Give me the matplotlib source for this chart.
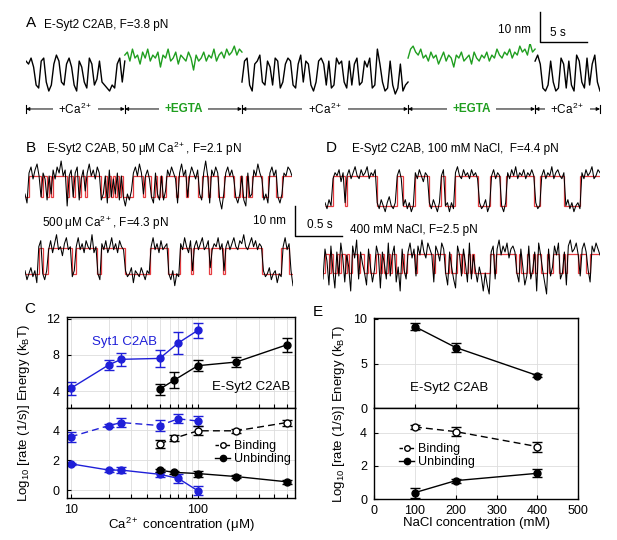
import numpy as np
import matplotlib
matplotlib.use('Agg')
import matplotlib.pyplot as plt
from matplotlib.lines import Line2D
from matplotlib.ticker import FixedLocator, NullFormatter

plt.rcParams['font.family'] = ['Liberation Sans', 'DejaVu Sans']
plt.rcParams['mathtext.fontset'] = 'custom'
plt.rcParams['mathtext.rm'] = 'Liberation Sans'
plt.rcParams['mathtext.it'] = 'Liberation Sans:italic'
plt.rcParams['mathtext.bf'] = 'Liberation Sans:bold'

W, H = 617, 540
BLUE = '#1f1fd8'
GREEN = '#1f9e1f'
RED = '#e3282c'

# ---- panel A: extension trace (nm), segments alternating Ca / EGTA ----
a_seg_dur = [10.5, 12.45, 17.65, 13.5, 6.9]   # s
a_cond = [r'+Ca$^{2+}$', '+EGTA', r'+Ca$^{2+}$', '+EGTA', r'+Ca$^{2+}$']
a_cond_color = ['k', GREEN, 'k', GREEN, 'k']
a_ca1 = [8, 7, 9, 6, 0, -1, 8, 9, 1, -2, 0, 7, 10, 8, 1, 0, 7, 9, 6, 0,
         -2, 8, 6, 1, -1, 9, 7, 0, 2, 8, 1, 0, -1, -2, 0, -1, 7, 9, 1, 8]
a_egta1 = [10, 11, 8, 12, 9, 10, 7, 11, 9, 12, 8, 10, 9, 11, 6, 10, 9, 12, 8, 9,
           11, 7, 10, 9, 8, 11, 9, 5, 10, 8, 9, 11, 8, 10, 9, 12, 8, 10, 11, 9,
           12, 10, 11, 13, 10, 12, 11]
a_ca2 = [1, 8, 9, 0, -2, 7, 8, 10, 1, 0, 8, 6, 0, 9, 8, -1, 1, 7, 9, 8,
         0, -1, 7, 10, 1, 8, 7, 0, -2, 1, 8, 9, 7, 0, 8, -1, 0, 9, 7, 8,
         1, -1, 8, 0, 7, 9, 0, 1, 8, 6, 9, -1, 0, 12, 7, 1, -2, -1, 8, 0,
         -3, -1, 7, -2, 0, 1]
a_egta2 = [9, 12, 13, 11, 10, 12, 9, 10, 8, 11, 9, 10, 7, 9, 11, 8, 10, 9, 6, 10,
           9, 11, 8, 9, 10, 7, 11, 9, 8, 10, 9, 11, 8, 10, 9, 12, 10, 9, 11, 10,
           12, 9, 11, 10, 13, 11, 12, 10, 14, 11, 12]
a_ca3 = [8, 10, 7, -1, -2, 0, 8, 1, -2, -1, 9, 7, -1, 8, 0, -2, 10, 8, 1, -1,
         9, 0, 7, 10, 1, -2]
a_segments = [a_ca1, a_egta1, a_ca2, a_egta2, a_ca3]

# ---- panels B / D: traces (nm) and two-state idealisation (run lengths, low first) ----
b1_dur, b1_hi = 2.84, 7.0
b1_runs = [2, 6, 1, 2, 1, 1, 1, 7, 1, 2, 1, 2, 1, 2, 1, 7, 2, 1, 1, 1, 1, 1, 1, 1, 1, 1, 5, 5,
           1, 3, 2, 1, 2, 1, 2, 5, 1, 4, 1, 5, 2, 3, 1, 4, 3, 5, 3, 1, 2, 1, 2, 5, 3, 4, 3, 5]
b1_trace = [1, -2, 8, 10, 6, 9, 11, 7, 0, 8, 6, -1, 7, 1, 9, 6, 10, 8, 12, 7, 9, -3, 7, 9, 0,
            8, 10, -1, 6, 9, 2, 8, 11, 7, 9, 6, 10, 8, -1, 1, 7, -2, 9, 0, 6, 1, 8, -1, 7,
            0, -3, 1, -1, 2, 8, 10, 7, 11, 8, 1, 7, 9, 6, 0, -2, 8, 1, -1, 7, -1, 2,
            9, 7, 10, 8, 6, -2, 8, 11, 7, 9, 0, 7, 10, 8, 6, 9, 1, -1, 8, 12, 7, -2,
            9, 7, 10, 8, -1, -4, 1, 8, 10, 7, 9, 6, 0, -2, 1, 7, -1, -3, 8, 0, 1,
            9, 7, 11, 8, 6, -1, 1, -2, 8, 10, 7, 9, 0, -2, 1, 8, 7, 10, 9, 7]

b2_dur, b2_hi = 2.85, 8.5
b2_runs = [7, 2, 3, 12, 2, 11, 2, 12, 13, 9, 6, 6, 1, 8, 1, 6, 1, 19, 10, 4, 2]
b2_trace = [1, -2, 0, 2, -1, 1, -3, 9, 11, 0, -2, 1,
            8, 11, 7, 10, 13, 8, 9, 6, 10, 12, 8, 9, -1, 1,
            9, 12, 8, 10, 7, 11, 9, 8, 13, 7, 9, 0, -2,
            10, 8, 11, 7, 9, 12, 8, 10, 7, 11, 9, 8,
            1, -1, 0, 2, -3, 1, 0, -1, 2, 0, -2, 1, 0,
            9, 12, 8, 10, 7, 11, 8, 9, 10, 0, -2, 1, -4, 0, -1,
            10, 8, 12, 9, 7, 11, 1, 9, 11, 8, 10, 12, 8, 9, 11, 2,
            8, 10, 9, 12, 8, 10, 1,
            9, 11, 8, 10, 12, 9, 8, 11, 10, 13, 9, 8, 10, 12, 9, 11, 8, 10, 9,
            1, -1, 0, 2, -2, 0, 1, -3, 0, -1, 9, 12, 8, 10, 1, -4]

d1_dur, d1_hi = 2.93, 9.8
d1_runs = [4, 6, 1, 15, 10, 3, 6, 7, 6, 2, 5, 12, 6, 5, 3, 14, 3, 12, 8, 10]
d1_trace = [1, -1, 2, 0, 9, 11, 10, 12, 8, 11, 1,
            10, 12, 9, 11, 13, 10, 9, 12, 10, 11, 13, 9, 11, 10, 12,
            1, -1, 2, 0, -2, 1, 3, 0, -1, 1, 10, 12, 9, 0, 2, -1, 1, -2, 0,
            11, 9, 12, 10, 8, 11, 10, 1, -1, 2, 0, -2, 1, 10, 12, 0, 1, -2, 1, -1,
            11, 13, 10, 9, 12, 10, 11, 9, 12, 10, 11, 9, 1, -1, 0, 2, -2, 0,
            10, 12, 9, 11, 10, 0, -2, 1,
            11, 9, 12, 10, 13, 9, 11, 10, 12, 9, 11, 10, 12, 10, 1, -1, 0,
            10, 12, 9, 11, 10, 13, 9, 11, 12, 10, 9, 11, 0, 2, -1, 1, -2, 0, 1, -1,
            11, 9, 12, 10, 11, 13, 9, 10, 12, 11]

d2_dur, d2_hi = 2.95, 6.3
d2_runs = [1, 2, 1, 1, 2, 1, 1, 2, 1, 1, 2, 3, 1, 2, 2, 1, 3, 2, 1, 1, 2, 1, 1, 2, 3, 1, 2, 4,
           1, 8, 1, 5, 2, 1, 3, 2, 1, 1, 2, 1, 1, 1, 8, 2, 1, 10, 2, 1, 3, 1, 2, 1, 1, 2, 3, 1,
           2, 3, 2, 1, 1, 6, 1, 3, 2, 5]
d2_trace = [-2, 8, 4, -4, 9, 1, -5, 7, -1, 10, 5, -3, 6, 2, -6, 9, 5, 11, -2, 7, 3, 0, -4, 8,
            2, -3, 1, 9, 6, -5, 7, 3, -2, 10, -1, 6, 9, -3, 2, -6, 8, 1, -2, 7, 10, 5, 8, -1,
            9, 6, 11, 7, 5, 10, 8, 6, -3, 9, 7, 4, 10, 8, 0, -4, 7, 2, -2, -5, 9, 6, -1, 8,
            3, -3, 10, -2, 6, 1, -3, 2, -1, -6, 0, -4, -7, 7, 9, -2, 8, 11, 6, 9, 7, 10, 5, 8,
            9, 7, 0, -3, 8, 2, -4, -1, 9, -2, 1, 7, -6, 10, 6, 1, -3, -7, 8, -1, 2, 9, 6, 10,
            -2, 0, 7, -4, 9, 11, 7, 8, 10, 6, -1, 8, 10, 7, 1, -3, 9, 7, 10, 8, 6]

# ---- panel C: Ca2+ dependence ----
ca_syt1 = [10, 20, 25, 50, 70, 100]
syt1_energy = [4.3, 6.9, 7.5, 7.6, 9.3, 10.7]
syt1_energy_err = [0.75, 0.55, 0.75, 0.95, 1.2, 0.85]
syt1_bind = [3.55, 4.3, 4.5, 4.3, 4.75, 4.6]
syt1_bind_err = [0.35, 0.1, 0.3, 0.35, 0.3, 0.35]
syt1_unbind = [1.75, 1.33, 1.33, 1.05, 0.78, -0.05]
syt1_unbind_err = [0.05, 0.1, 0.2, 0.15, 0.3, 0.3]
ca_esyt2 = [50, 65, 100, 200, 500]
esyt2_energy = [4.2, 5.2, 6.8, 7.2, 9.1]
esyt2_energy_err = [0.6, 0.85, 0.6, 0.6, 0.75]
esyt2_bind = [3.07, 3.45, 3.95, 3.95, 4.5]
esyt2_bind_err = [0.25, 0.2, 0.3, 0.15, 0.2]
esyt2_unbind = [1.33, 1.18, 1.1, 0.9, 0.55]
esyt2_unbind_err = [0.1, 0.1, 0.2, 0.12, 0.12]

# ---- panel E: NaCl dependence ----
nacl = [100, 200, 400]
nacl_energy = [9.14, 6.8, 3.66]
nacl_energy_err = [0.35, 0.5, 0.2]
nacl_bind = [4.34, 4.06, 3.16]
nacl_bind_err = [0.1, 0.25, 0.3]
nacl_unbind = [0.4, 1.12, 1.56]
nacl_unbind_err = [0.3, 0.12, 0.25]


fig = plt.figure(figsize=(W / 100, H / 100), dpi=100)


def box(x0, y0, x1, y1):
    # axes from pixel box of the 617x540 canvas
    return fig.add_axes([x0 / W, 1 - y1 / H, (x1 - x0) / W, (y1 - y0) / H])


def label(x, y, s, **kw):
    kw.setdefault('va', 'center')
    fig.text(x / W, 1 - y / H, s, **kw)


# ================= A =================
axA = box(26, 44, 600, 100)
axA.axis('off')
t0 = 0.0
bounds = [0.0]
for vals, dur, col in zip(a_segments, a_seg_dur, a_cond_color):
    t = t0 + np.linspace(0, dur, len(vals))
    axA.plot(t, vals, color=col if col == 'k' else GREEN, lw=1.0)
    t0 += dur
    bounds.append(t0)
axA.set_xlim(0, t0)
axA.set_ylim(-5, 13.7)

yr = -8
for i, (lab, col) in enumerate(zip(a_cond, a_cond_color)):
    l, r = bounds[i], bounds[i + 1]
    axA.annotate('', xy=(l, yr), xytext=(r, yr), annotation_clip=False,
                 arrowprops=dict(arrowstyle='<|-|>', color='k', lw=0.7,
                                 mutation_scale=5, shrinkA=0, shrinkB=0))
    axA.text((l + r) / 2, yr, lab, ha='center', va='center', color=col,
             fontsize=8.5, fontweight='bold' if col != 'k' else 'normal',
             bbox=dict(fc='white', ec='none', pad=4), clip_on=False)
for b in bounds:
    axA.plot([b, b], [yr - 1.4, yr + 1.4], color='k', lw=0.8, clip_on=False)

sx, sy = 54.6, 14.3
axA.plot([sx, sx, sx + 5], [sy + 10, sy, sy], color='k', lw=1, clip_on=False)
axA.text(sx - 0.9, sy + 4, '10 nm', ha='right', va='center', fontsize=8.5)
axA.text(sx + 1.9, sy + 3, '5 s', ha='center', va='center', fontsize=8.5)

label(26, 23, 'A', fontsize=11)
label(44, 25, 'E-Syt2 C2AB, F=3.8 pN', fontsize=8.5)


# ================= B / D traces =================
def trace(px, vals, runs, dur, hi, ylim):
    ax = box(*px)
    ax.axis('off')
    ax.plot(np.linspace(0, dur, len(vals)), vals, color='k', lw=0.75)
    edges = np.concatenate([[0], np.cumsum(runs)]) / np.sum(runs) * dur
    levels = [hi if i % 2 else 0 for i in range(len(runs))]
    ax.stairs(levels, edges, baseline=None, color=RED, lw=0.9, alpha=0.9)
    ax.set_xlim(0, dur)
    ax.set_ylim(*ylim)
    return ax


axB1 = trace((25, 156.5, 292, 212), b1_trace, b1_runs, b1_dur, b1_hi, (-5, 13.5))
axB2 = trace((25, 231.7, 293, 291.7), b2_trace, b2_runs, b2_dur, b2_hi, (-6, 14))
axD1 = trace((325, 163.7, 600, 214.7), d1_trace, d1_runs, d1_dur, d1_hi, (-3, 14))
axD2 = trace((323, 237, 600, 297), d2_trace, d2_runs, d2_dur, d2_hi, (-8, 12))

bx, by = 2.87, -12.9
axB1.plot([bx, bx, bx + 0.5], [by + 10, by, by], color='k', lw=1, clip_on=False)
axB1.text(2.78, -8.0, '10 nm', ha='right', va='center', fontsize=8.5, clip_on=False)
axB1.text(3.14, -9.4, '0.5 s', ha='center', va='center', fontsize=8.5, clip_on=False)

label(26, 148, 'B', fontsize=11)
label(46, 149, r'E-Syt2 C2AB, 50 μM Ca$^{2+}$, F=2.1 pN', fontsize=8.5)
label(42, 223, r'500 μM Ca$^{2+}$, F=4.3 pN', fontsize=8.5)
label(326, 148, 'D', fontsize=11)
label(352, 149, 'E-Syt2 C2AB, 100 mM NaCl,  F=4.4 pN', fontsize=8.5)
label(350, 230, '400 mM NaCl, F=2.5 pN', fontsize=8.5)


# ================= C / E =================
def style(ax):
    ax.grid(True, which='both', color='#dddddd', lw=0.6)
    ax.set_axisbelow(True)
    ax.tick_params(direction='in', which='both', labelsize=9, length=3, width=0.8)
    ax.tick_params(axis='y', pad=5)
    ax.tick_params(axis='x', pad=4)
    for s in ax.spines.values():
        s.set_linewidth(1.0)


eb = dict(ms=5, lw=1, capsize=3.5, elinewidth=1, capthick=1)

axC1 = box(66.7, 316.7, 295, 408.3)
axC2 = box(66.7, 408.3, 295, 498.3)
for ax in (axC1, axC2):
    ax.set_xscale('log')
    ax.set_xlim(9.3, 580)
    ax.xaxis.set_major_locator(FixedLocator([10, 100]))
    ax.xaxis.set_minor_locator(FixedLocator([20, 30, 40, 50, 60, 70, 80, 90, 200, 300, 400, 500]))
    ax.xaxis.set_minor_formatter(NullFormatter())
    style(ax)
axC1.set_xticklabels([])
axC2.set_xticklabels(['10', '100'])

axC1.errorbar(ca_syt1, syt1_energy, yerr=syt1_energy_err, color=BLUE, marker='o', **eb)
axC1.errorbar(ca_esyt2, esyt2_energy, yerr=esyt2_energy_err, color='k', marker='o', **eb)
axC1.set_ylim(2.1, 12.2)
axC1.set_yticks([4, 8, 12])
axC1.text(14.8, 9.45, 'Syt1 C2AB', color=BLUE, fontsize=9.5, va='center')
axC1.text(129, 4.5, 'E-Syt2 C2AB', color='k', fontsize=9.5, va='center')
axC1.set_ylabel(r'Energy (k$_\mathrm{B}$T)', fontsize=9.5)
axC1.yaxis.set_label_coords(-0.15, 0.5)

axC2.errorbar(ca_syt1, syt1_bind, yerr=syt1_bind_err, color=BLUE, marker='o', ls=(0, (5, 3)), **eb)
axC2.errorbar(ca_syt1, syt1_unbind, yerr=syt1_unbind_err, color=BLUE, marker='o', **eb)
axC2.errorbar(ca_esyt2, esyt2_bind, yerr=esyt2_bind_err, color='k', marker='o', mfc='white',
              ls=(0, (5, 3)), **eb)
axC2.errorbar(ca_esyt2, esyt2_unbind, yerr=esyt2_unbind_err, color='k', marker='o', **eb)
axC2.set_ylim(-0.55, 5.45)
axC2.set_yticks([0, 2, 4])
axC2.set_ylabel(r'Log$_{10}$ [rate (1/s)]', fontsize=9.5)
axC2.yaxis.set_label_coords(-0.15, 0.5)
axC2.set_xlabel(r'Ca$^{2+}$ concentration (μM)', fontsize=9.5, labelpad=0)

handles = [Line2D([], [], color='k', ls=(0, (2.5, 1.5)), marker='o', mfc='white', ms=4, lw=1),
           Line2D([], [], color='k', ls='-', marker='o', ms=4.5, lw=1)]
leg_kw = dict(frameon=False, handlelength=1.2, handletextpad=0.35, labelspacing=0.1,
              borderpad=0, borderaxespad=0, loc='upper left', fontsize=9,
              bbox_transform=fig.transFigure)
axC2.legend(handles, ['Binding', 'Unbinding'], bbox_to_anchor=(215 / W, 1 - 440 / H), **leg_kw)

label(24, 309, 'C', fontsize=11)

axE1 = box(374, 318, 578.3, 408.3)
axE2 = box(374, 408.3, 578.3, 499.3)
for ax in (axE1, axE2):
    ax.set_xlim(0, 500)
    ax.set_xticks([0, 100, 200, 300, 400, 500])
    style(ax)
axE1.set_xticklabels([])

axE1.errorbar(nacl, nacl_energy, yerr=nacl_energy_err, color='k', marker='o', **eb)
axE1.set_ylim(0, 10.1)
axE1.set_yticks([0, 5, 10])
axE1.text(88, 2.3, 'E-Syt2 C2AB', fontsize=9.5, va='center')
axE1.set_ylabel(r'Energy (k$_\mathrm{B}$T)', fontsize=9.5)
axE1.yaxis.set_label_coords(-0.13, 0.5)

axE2.errorbar(nacl, nacl_bind, yerr=nacl_bind_err, color='k', marker='o', mfc='white',
              ls=(0, (5, 3)), **eb)
axE2.errorbar(nacl, nacl_unbind, yerr=nacl_unbind_err, color='k', marker='o', **eb)
axE2.set_ylim(0, 5.46)
axE2.set_yticks([0, 2, 4])
axE2.set_ylabel(r'Log$_{10}$ [rate (1/s)]', fontsize=9.5)
axE2.yaxis.set_label_coords(-0.13, 0.5)
axE2.set_xlabel('NaCl concentration (mM)', fontsize=9.5, labelpad=0)
axE2.legend(handles, ['Binding', 'Unbinding'], bbox_to_anchor=(399 / W, 1 - 443 / H), **leg_kw)

label(313, 312, 'E', fontsize=11)

fig.savefig('out.png', dpi=100)
